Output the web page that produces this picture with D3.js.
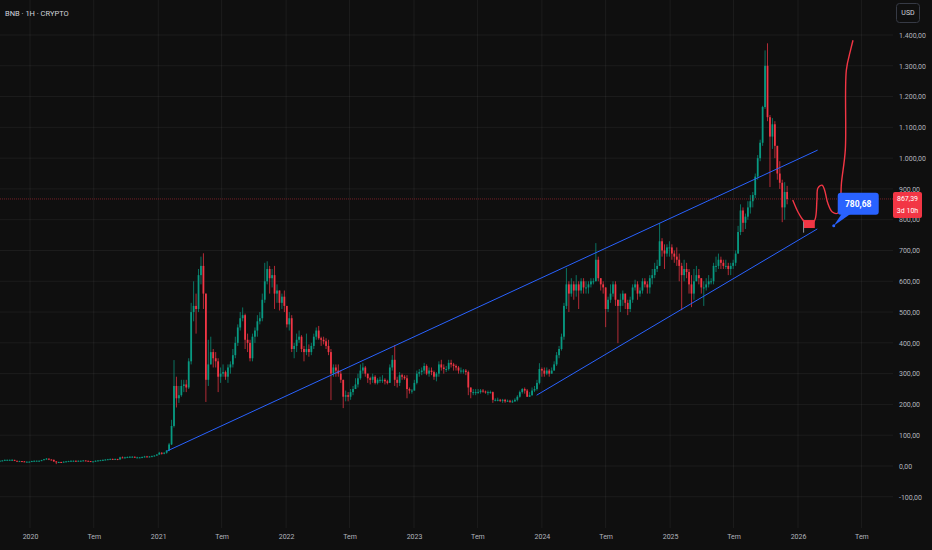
<!DOCTYPE html>
<html>
<head>
<meta charset="utf-8">
<script src="https://cdn.jsdelivr.net/npm/d3@7"></script>
<style>
  html, body { margin: 0; padding: 0; background: #0f0f0f; }
  svg { display: block; font-family: Roboto, "Liberation Sans", sans-serif; }
</style>
</head>
<body>
<div id="chart"></div>
<script>
// weekly candles, first bar opens 2019-10-07, each bar opens at previous close
var firstWeek = "2019-10-07";
var firstOpen = 16;

var closes = [
  // 2019
  17,18,20,20, 20,20,17,16, 16,15,14,14,14,
  // 2020
  16,17,17,17, 19,22,24,21, 20,15,12,13,12, 14,15,16,17, 17,16,17,17, 18,17,16,15,15,
  17,18,19,20, 21,22,23,22,23, 21,28,27,28, 29,30,30,28, 28,28,29,31,30, 31,32,34,37,
  // 2021
  43,41,43,50, 70,130,260,220, 230,260,265,255,340, 500,520,510,620, 650,560,280,330,370,
  350,340,290,300, 305,290,320,330, 360,400,450,480,490, 410,400,350,420, 440,470,480,540,
  600,640,610,620,560, 570,530,550,520,
  // 2022
  460,480,380,390,410, 420,380,370,380, 370,390,420,440, 415,410,405,390, 370,300,320,310,300,
  280,225,230,225, 240,250,265,285, 310,320,300,285,280, 290,270,280,280, 280,275,270,320,345,
  280,270,295,290, 285,250,245,245,
  // 2023
  270,300,305,310,325, 300,310,305,290, 300,330,320,315, 315,335,330,325, 320,310,310,310,305,
  255,240,240,240, 240,245,242,240,240, 240,215,215,215, 212,215,210,212, 210,210,215,225,240,
  250,245,225,230, 245,250,270,315,
  // 2024
  310,300,310,300,310, 330,360,380,420, 520,590,560,590, 570,590,570,600,580, 580,590,600,600,
  670,610,590,580, 510,540,560,590,540, 520,540,560,530, 510,540,580,590,560, 570,600,590,580,
  610,620,640,650, 730,700,690,710,710,
  // 2025
  690,680,670,650, 620,640,630,590, 560,600,620,610,580, 580,590,600,600, 650,650,670,660,
  650,650,640,650,660, 690,760,830,790, 810,840,860,880, 940,1000,1050,1166,1300,
  1133,1070,1110,1040, 950,920,840,890, 867
];

var highs = [
  // 2019
  18,19,21,21, 21,22,20,17, 17,16,16,15,15,
  // 2020
  17,18,18,18, 20,23,26,24, 22,21,16,14,14, 15,16,17,18, 18,18,18,18, 19,18,17,16,16,
  18,19,20,21, 22,23,24,24,24, 23,30,31,30, 31,32,32,31, 30,29,31,33,33, 32,34,35,39,
  // 2021
  46,45,45,52, 75,150,344,290, 260,280,280,280,350, 530,600,560,640, 680,691,560,410,420,
  380,370,350,320, 330,310,330,340, 380,420,460,500,515, 495,430,410,430, 450,490,500,560,
  660,665,650,640,650, 590,570,560,570,
  // 2022
  515,500,490,400,430, 440,425,390,430, 395,400,430,450, 455,420,420,415, 410,380,330,330,330,
  310,280,245,240, 250,260,285,300, 330,335,325,300,290, 300,295,285,290, 295,285,280,330,360,
  393,290,305,300, 295,295,255,250,
  // 2023
  280,310,315,320,335, 330,320,320,310, 305,340,345,330, 325,345,345,335, 330,325,320,315,315,
  310,255,250,250, 250,250,250,245,245, 245,242,220,222, 218,218,218,216, 215,215,220,230,245,
  253,255,250,240, 255,260,280,334,
  // 2024
  320,320,320,315,320, 340,370,390,430, 530,643,600,610, 600,620,600,610,610, 600,600,610,610,
  724,680,610,600, 580,550,590,600,600, 540,560,570,560, 540,550,590,605,600, 580,610,610,600,
  620,640,660,670, 789,740,720,720,730,
  // 2025
  720,700,710,690, 660,670,660,640, 620,640,650,640,610, 600,610,620,610, 660,680,690,680,
  670,670,660,660,670, 700,780,850,840, 820,860,880,890, 950,1010,1060,1170,1350,
  1373,1140,1130,1120, 1020,990,930,922, 910
];

var lows = [
  // 2019
  15,16,17,19, 19,19,16,15, 15,14,13,13,13,
  // 2020
  13,15,16,16, 16,19,21,19, 19,13,6,11,11, 12,13,14,15, 15,15,15,16, 16,16,15,14,14,
  14,16,17,18, 19,20,21,21,21, 19,21,26,25, 27,28,29,27, 26,26,27,28,29, 28,30,31,33,
  // 2021
  37,37,38,40, 48,68,125,190, 205,225,240,240,250, 330,470,430,500, 590,510,208,260,330,
  320,320,240,270, 290,280,270,300, 320,350,390,440,470, 380,370,340,340, 400,420,460,470,
  530,590,560,580,510, 530,505,510,500,
  // 2022
  450,440,370,350,370, 400,370,340,360, 355,360,380,410, 410,390,395,380, 360,214,290,290,290,
  270,188,210,210, 215,230,250,255, 280,300,290,270,265, 270,265,265,270, 270,265,265,270,310,
  260,255,260,280, 280,220,235,235,
  // 2023
  245,265,290,295,300, 295,290,295,280, 275,290,310,300, 305,310,320,310, 310,300,300,300,295,
  230,220,230,230, 235,235,238,235,230, 235,205,210,210, 208,205,205,208, 205,205,208,210,222,
  235,235,224,224, 228,240,245,265,
  // 2024
  290,290,295,290,300, 310,325,350,375, 410,510,500,550, 540,550,510,560,560, 560,560,580,590,
  600,600,570,560, 451,500,530,550,520, 399,500,520,510, 490,500,530,570,540, 550,560,580,560,
  560,590,610,630, 650,680,640,680,680,
  // 2025
  670,660,650,600, 506,600,610,560, 516,540,600,590,560, 520,570,580,590, 590,630,640,640,
  640,640,620,620,640, 650,690,750,760, 770,800,820,840, 870,930,990,1040,1160,
  1120,906,1030,1000, 930,900,792,800, 850
];

var timeTicks = ["2020-01-01", "2020-07-01", "2021-01-01", "2021-07-01", "2022-01-01", "2022-07-01",
  "2023-01-01", "2023-07-01", "2024-01-01", "2024-07-01", "2025-01-01", "2025-07-01",
  "2026-01-01", "2026-07-01"];
var timeLabels = ["2020", "Tem", "2021", "Tem", "2022", "Tem", "2023", "Tem", "2024", "Tem",
  "2025", "Tem", "2026", "Tem"];
var priceTicks = [-100, 0, 100, 200, 300, 400, 500, 600, 700, 800, 900, 1000, 1100, 1200, 1300, 1400];

// drawings: rising channel
var channelUpper = [["2021-01-27", 49], ["2026-02-26", 1026]];
var channelLower = [["2023-12-17", 230], ["2026-02-25", 770]];

// hand drawn projection path
var projection = [
  ["2025-12-17", 864], ["2026-01-01", 825], ["2026-01-15", 799], ["2026-02-01", 779],
  ["2026-02-18", 799], ["2026-02-24", 864], ["2026-02-27", 903], ["2026-03-11", 912],
  ["2026-03-18", 896], ["2026-03-27", 854], ["2026-04-09", 825], ["2026-04-24", 821],
  ["2026-05-01", 841], ["2026-05-05", 919], ["2026-05-16", 1026], ["2026-05-19", 1286],
  ["2026-05-31", 1351], ["2026-06-07", 1383]
];
var targetBox = [["2026-01-18", 799], ["2026-02-18", 773]];
var targetStick = [["2026-01-17", 800], ["2026-01-17", 758]];

var lastPrice = 867.39;
var lastPriceText = ["867,39", "3d 10h"];
var callout = ["2026-04-13", 780.68];
var calloutText = "780,68";
var title = "BNB · 1H · CRYPTO";

var W = 932, H = 550;
var PLOT_R = 893, PLOT_B = 528;
var UP = "#089981", DOWN = "#f23645", BLUE = "#2962ff";

var parse = d3.utcParse("%Y-%m-%d");
var x = d3.scaleUtc()
  .domain([parse("2020-01-01"), parse("2026-01-01")])
  .range([30, 798]);
var y = d3.scaleLinear()
  .domain([0, 1400])
  .range([466, 35]);

var tr = d3.formatLocale({decimal: ",", thousands: ".", grouping: [3], currency: ["", ""], minus: "-"});
var fmt = tr.format(",.2f");

// build candles
var start = parse(firstWeek);
var candles = closes.map(function(c, i) {
  var o = i === 0 ? firstOpen : closes[i - 1];
  return {
    date: d3.utcDay.offset(start, i * 7),
    open: o,
    close: c,
    high: Math.max(highs[i], o, c),
    low: Math.min(lows[i], o, c)
  };
});

var svg = d3.select("#chart")
  .append("svg")
    .attr("width", W)
    .attr("height", H);

svg.append("rect")
  .attr("width", W)
  .attr("height", H)
  .attr("fill", "#0f0f0f");

svg.append("clipPath")
  .attr("id", "plot")
  .append("rect")
    .attr("width", PLOT_R)
    .attr("height", PLOT_B);

// grid
var grid = svg.append("g").attr("class", "grid");
grid.selectAll(".vg").data(timeTicks).enter()
  .append("line")
    .attr("x1", function(d) { return x(parse(d)); })
    .attr("x2", function(d) { return x(parse(d)); })
    .attr("y1", 0)
    .attr("y2", PLOT_B)
    .attr("stroke", "rgba(242,242,242,0.06)");
grid.selectAll(".hg").data(priceTicks).enter()
  .append("line")
    .attr("x1", 0)
    .attr("x2", PLOT_R)
    .attr("y1", function(d) { return y(d); })
    .attr("y2", function(d) { return y(d); })
    .attr("stroke", "rgba(242,242,242,0.06)");

var plot = svg.append("g").attr("clip-path", "url(#plot)");

// candles
var step = x(candles[1].date) - x(candles[0].date);
var bw = step * 0.72;
var bars = plot.selectAll(".candle").data(candles).enter()
  .append("g")
  .attr("class", "candle");
bars.append("line")
  .attr("x1", function(d) { return x(d.date); })
  .attr("x2", function(d) { return x(d.date); })
  .attr("y1", function(d) { return y(d.high); })
  .attr("y2", function(d) { return y(d.low); })
  .attr("stroke", function(d) { return d.close >= d.open ? UP : DOWN; })
  .attr("stroke-opacity", 0.8)
  .attr("stroke-width", 0.9);
bars.append("rect")
  .attr("x", function(d) { return x(d.date) - bw / 2; })
  .attr("width", bw)
  .attr("y", function(d) { return y(Math.max(d.open, d.close)); })
  .attr("height", function(d) { return Math.max(1, Math.abs(y(d.open) - y(d.close))); })
  .attr("fill", function(d) { return d.close >= d.open ? UP : DOWN; });

// last price line
plot.append("line")
  .attr("x1", 0)
  .attr("x2", PLOT_R)
  .attr("y1", y(lastPrice))
  .attr("y2", y(lastPrice))
  .attr("stroke", DOWN)
  .attr("stroke-opacity", 0.45)
  .attr("stroke-dasharray", "1,1");

// channel
var seg = d3.line()
  .x(function(d) { return x(parse(d[0])); })
  .y(function(d) { return y(d[1]); });
[channelUpper, channelLower].forEach(function(c) {
  plot.append("path")
    .attr("d", seg(c))
    .attr("fill", "none")
    .attr("stroke", BLUE)
    .attr("stroke-width", 1);
});

// projection drawing
plot.append("line")
  .attr("x1", x(parse(targetStick[0][0])))
  .attr("x2", x(parse(targetStick[1][0])))
  .attr("y1", y(targetStick[0][1]))
  .attr("y2", y(targetStick[1][1]))
  .attr("stroke", "#9598a1")
  .attr("stroke-width", 1);
plot.append("rect")
  .attr("x", x(parse(targetBox[0][0])))
  .attr("y", y(targetBox[0][1]))
  .attr("width", x(parse(targetBox[1][0])) - x(parse(targetBox[0][0])))
  .attr("height", y(targetBox[1][1]) - y(targetBox[0][1]))
  .attr("fill", DOWN);
plot.append("path")
  .attr("d", seg.curve(d3.curveCatmullRom)(projection))
  .attr("fill", "none")
  .attr("stroke", DOWN)
  .attr("stroke-width", 1.4);

// callout
var cx = x(parse(callout[0])), cy = y(callout[1]);
var co = svg.append("g").attr("class", "callout");
co.append("path")
  .attr("d", "M" + (cx + 8) + "," + (cy - 12) + "L" + (cx + 17) + "," + (cy - 12) + "L" + cx + "," + cy + "Z")
  .attr("fill", BLUE);
co.append("rect")
  .attr("x", cx + 4)
  .attr("y", cy - 33)
  .attr("width", 41)
  .attr("height", 22)
  .attr("rx", 3)
  .attr("fill", BLUE);
co.append("circle")
  .attr("cx", cx)
  .attr("cy", cy)
  .attr("r", 1.5)
  .attr("fill", BLUE);
co.append("text")
  .attr("x", cx + 24.5)
  .attr("y", cy - 22)
  .attr("dy", "0.35em")
  .attr("text-anchor", "middle")
  .attr("fill", "#ffffff")
  .attr("font-size", 8.5)
  .attr("font-weight", "bold")
  .text(calloutText);

// price axis
var yAxis = svg.append("g")
  .attr("transform", "translate(899,0)")
  .call(d3.axisRight(y).tickValues(priceTicks).tickFormat(fmt).tickSize(0).tickPadding(0));
yAxis.select(".domain").remove();
yAxis.selectAll("text")
  .attr("fill", "#b2b5be")
  .attr("font-size", 7)
  .attr("font-family", "Roboto, sans-serif");

// time axis
var xAxis = svg.append("g")
  .attr("transform", "translate(0," + PLOT_B + ")")
  .call(d3.axisBottom(x)
    .tickValues(timeTicks.map(parse))
    .tickFormat(function(d, i) { return timeLabels[i]; })
    .tickSize(0)
    .tickPadding(6));
xAxis.select(".domain").remove();
xAxis.selectAll("text")
  .attr("fill", "#b2b5be")
  .attr("font-size", 7)
  .attr("font-family", "Roboto, sans-serif");

// last price label
var ly = y(lastPrice);
svg.append("rect")
  .attr("x", 893)
  .attr("y", ly - 7)
  .attr("width", 29)
  .attr("height", 26)
  .attr("rx", 2)
  .attr("fill", DOWN);
svg.selectAll(".lp").data(lastPriceText).enter()
  .append("text")
    .attr("x", 907.5)
    .attr("y", function(d, i) { return ly + i * 11.5; })
    .attr("dy", "0.35em")
    .attr("text-anchor", "middle")
    .attr("fill", "#ffffff")
    .attr("font-size", 7)
    .text(function(d) { return d; });

// currency button
svg.append("rect")
  .attr("x", 896.5)
  .attr("y", 3.5)
  .attr("width", 23)
  .attr("height", 19)
  .attr("rx", 3)
  .attr("fill", "none")
  .attr("stroke", "#363a45");
svg.append("text")
  .attr("x", 908)
  .attr("y", 13)
  .attr("dy", "0.35em")
  .attr("text-anchor", "middle")
  .attr("fill", "#d1d4dc")
  .attr("font-size", 7)
  .text("USD");

// title
svg.append("text")
  .attr("x", 5)
  .attr("y", 13)
  .attr("dy", "0.35em")
  .attr("fill", "#d1d4dc")
  .attr("font-size", 7.5)
  .text(title);
</script>
</body>
</html>
